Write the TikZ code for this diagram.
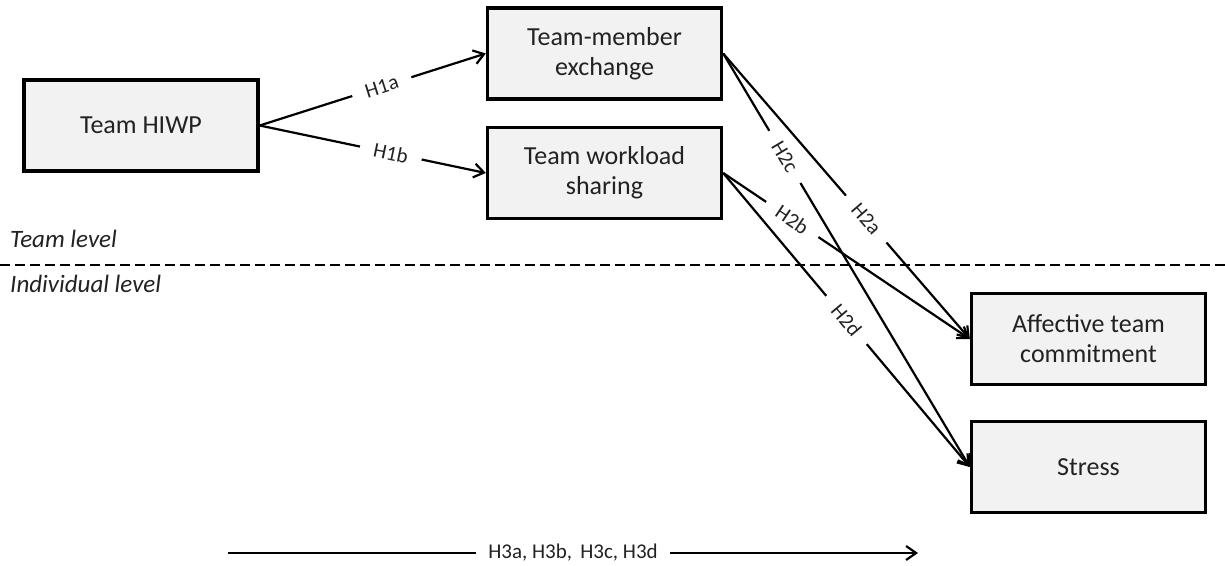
\documentclass[tikz,border=0pt]{standalone}
\usepackage{fontspec}
\setmainfont{Carlito}
\usetikzlibrary{arrows.meta}
\definecolor{boxgray}{HTML}{F2F2F2}
\definecolor{txt}{HTML}{222222}
\begin{document}
\begin{tikzpicture}[x=1pt,y=-1pt,
  box/.style={draw, line width=3.4pt, fill=boxgray, minimum width=234, minimum height=91,
    inner sep=0pt, align=center, text=txt, font=\fontsize{26}{30}\selectfont},
  conn/.style={line width=2.2pt, -{Straight Barb[length=10pt,width=14pt,line width=2.2pt]}},
  lab/.style={sloped, fill=white, inner xsep=14pt, inner ysep=2pt, text=txt, font=\fontsize{21}{23}\selectfont},
  lvl/.style={anchor=west, inner sep=0pt, text=txt, font=\fontsize{25}{28}\selectfont\itshape}]
\useasboundingbox (0,0) rectangle (1225,565);
% level separator
\coordinate (dl) at (0,265);
\coordinate (dr) at (1225,265);
\draw[line width=2pt, dash pattern=on 10pt off 5pt] (dl) -- (dr);
\node[lvl] (tl) at (10,239) {Team level};
\node[lvl] (il) at (10,284) {Individual level};
% boxes
\node[box] (hiwp) at (141,125.5) {Team HIWP};
\node[box] (tmx) at (604.5,53.5) {Team-member\\exchange};
\node[box] (tws) at (604.5,173) {Team workload\\sharing};
\node[box] (atc) at (1088.5,339) {Affective team\\commitment};
\node[box] (str) at (1088.5,467) {Stress};
% connectors
\draw[conn] (hiwp.east) -- node[lab, pos=0.54] {H1a} (tmx.west);
\draw[conn] (hiwp.east) -- node[lab, pos=0.58] {H1b} (tws.west);
\draw[conn] (tmx.east) -- node[lab, pos=0.58] {H2a} (atc.west);
\draw[conn] (tmx.east) -- node[lab, pos=0.25] {H2c} (str.west);
\draw[conn] (tws.east) -- node[lab, pos=0.28] {H2b} (atc.west);
\draw[conn] (tws.east) -- node[lab, pos=0.50] {H2d} (str.west);
% bottom arrow
\coordinate (h3s) at (228,553);
\coordinate (h3e) at (918,553);
\draw[conn] (h3s) -- node[fill=white, inner xsep=12pt, inner ysep=2pt, text=txt, font=\fontsize{21}{23}\selectfont] (h3) {H3a, H3b,\, H3c, H3d} (h3e);
\end{tikzpicture}
\end{document}
